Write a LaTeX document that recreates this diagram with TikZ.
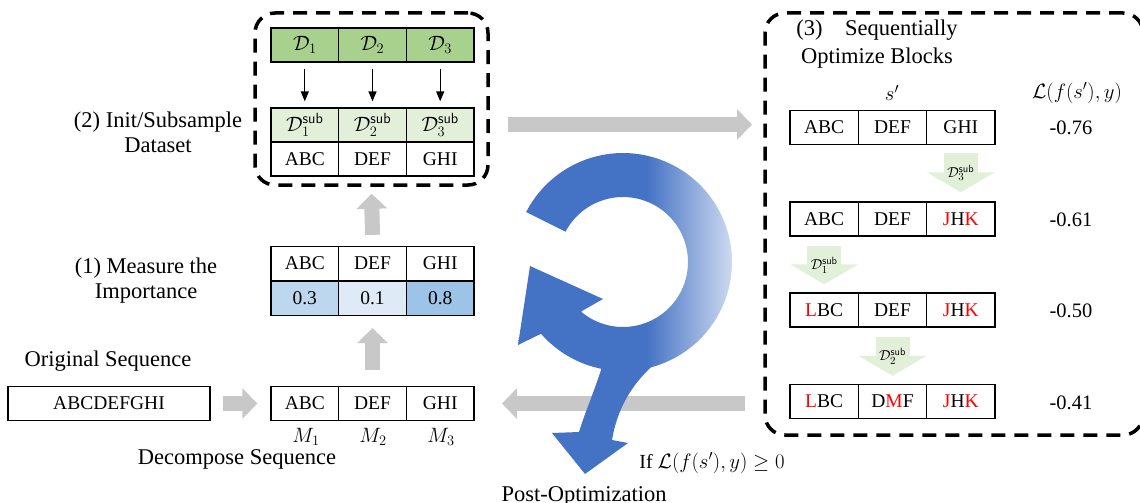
\documentclass[tikz,border=0pt]{standalone}
\usepackage{fontspec}
\setmainfont{Liberation Serif}
\usetikzlibrary{arrows.meta}
\definecolor{gdark}{HTML}{A9D18E}
\definecolor{glight}{HTML}{E2F0D9}
\definecolor{bthree}{HTML}{BDD7EE}
\definecolor{bone}{HTML}{DEEBF7}
\definecolor{beight}{HTML}{9DC3E6}
\definecolor{garrow}{RGB}{200,200,200}
\definecolor{cblue}{HTML}{4472C4}
\definecolor{cfade}{RGB}{205,217,240}
\pgfdeclarehorizontalshading{ringfade}{100bp}{color(0bp)=(cblue); color(25bp)=(cblue); color(55bp)=(cblue); color(75bp)=(cfade); color(100bp)=(cfade)}
\begin{document}
\begin{tikzpicture}[x=1pt,y=-1pt,
  cell/.style={draw, line width=1.3pt, minimum width=67.7pt, minimum height=34pt, inner sep=0pt, font=\fontsize{19.5}{21}\selectfont},
  mcell/.style={cell, font=\fontsize{21}{22}\selectfont},
  rcell/.style={cell, minimum width=68.3pt},
  lbl/.style={font=\fontsize{22.5}{25}\selectfont, align=center, inner sep=0pt},
  val/.style={font=\fontsize{20.5}{22}\selectfont, inner sep=0pt},
  dashbox/.style={draw, line width=3.5pt, dash pattern=on 14pt off 9pt, rounded corners=20pt, inner sep=0pt},
  blk/.style={-{Triangle[length=10pt,width=8pt]}, line width=1.3pt, shorten <=6pt, shorten >=6pt},
  grayarr/.style={color=garrow, line width=15pt, -{Triangle[length=15pt 0 1,width=30pt 0 1]}},
  greenarr/.style={color=glight, line width=34pt, -{Triangle[length=20pt 0 1,width=67pt 0 1]}},
  glbl/.style={text=black, font=\fontsize{15}{16}\selectfont, inner sep=0pt}
]
\useasboundingbox (0,0) rectangle (1140,503);

% dashed boxes
\node[dashbox, minimum width=233pt, minimum height=172pt] (lbox) at (371.5,99) {};
\node[dashbox, minimum width=378pt, minimum height=422pt] (rbox) at (954,224) {};

% top-left box contents
\node[mcell, fill=gdark] (d1) at (304.8,45) {$\mathcal{D}_1$};
\node[mcell, fill=gdark] (d2) at (372.5,45) {$\mathcal{D}_2$};
\node[mcell, fill=gdark] (d3) at (440.2,45) {$\mathcal{D}_3$};
\node[mcell, fill=glight] (s1) at (304.8,125) {$\mathcal{D}_1^{\mathsf{sub}}$};
\node[mcell, fill=glight] (s2) at (372.5,125) {$\mathcal{D}_2^{\mathsf{sub}}$};
\node[mcell, fill=glight] (s3) at (440.2,125) {$\mathcal{D}_3^{\mathsf{sub}}$};
\node[cell] (t1) at (304.8,159) {ABC};
\node[cell] (t2) at (372.5,159) {DEF};
\node[cell] (t3) at (440.2,159) {GHI};
\draw[blk] (d1) -- (s1);
\draw[blk] (d2) -- (s2);
\draw[blk] (d3) -- (s3);

% importance table
\node[cell] (i1) at (304.8,263.5) {ABC};
\node[cell] (i2) at (372.5,263.5) {DEF};
\node[cell] (i3) at (440.2,263.5) {GHI};
\node[cell, fill=bthree] (v1) at (304.8,298.5) {0.3};
\node[cell, fill=bone] (v2) at (372.5,298.5) {0.1};
\node[cell, fill=beight] (v3) at (440.2,298.5) {0.8};

% decomposed sequence
\node[cell] (m1) at (304.8,403.5) {ABC};
\node[cell] (m2) at (372.5,403.5) {DEF};
\node[cell] (m3) at (440.2,403.5) {GHI};
\node[val, font=\fontsize{21}{22}\selectfont] (ml1) at (306,437) {$M_1$};
\node[val, font=\fontsize{21}{22}\selectfont] (ml2) at (373,437) {$M_2$};
\node[val, font=\fontsize{21}{22}\selectfont] (ml3) at (441,437) {$M_3$};

% original sequence
\node[cell, minimum width=202pt] (orig) at (109,403.5) {ABCDEFGHI};

% labels left
\node[lbl] (lab2) at (158,132) {(2) Init/Subsample\\Dataset};
\node[lbl] (lab1) at (146,281) {(1) Measure the\\Importance};
\node[lbl] (labo) at (108,361) {Original Sequence};
\node[lbl] (labd) at (237,459) {Decompose Sequence};

% gray arrows left
\draw[grayarr] ([xshift=12pt]orig.east) -- ([xshift=-13pt]m1.west);
\draw[grayarr] ([yshift=16pt]m2.north) -- ([yshift=-12pt]v2.south);
\draw[grayarr] ([yshift=11pt]i2.north) -- ([yshift=-7pt]lbox.south);

% right box
\node[lbl, font=\fontsize{22.5}{28}\selectfont] (lab3) at (877,44) {(3)\quad Sequentially\\Optimize Blocks};
\node[val] (hs) at (892,93) {$s'$};
\node[val] (hl) at (1077,93) {$\mathcal{L}(f(s'),y)$};

\node[rcell] (r1a) at (824.2,127.5) {ABC};
\node[rcell] (r1b) at (892.5,127.5) {DEF};
\node[rcell] (r1c) at (960.8,127.5) {GHI};
\node[rcell] (r2a) at (824.2,219) {ABC};
\node[rcell] (r2b) at (892.5,219) {DEF};
\node[rcell] (r2c) at (960.8,219) {\textcolor{red}{J}H\textcolor{red}{K}};
\node[rcell] (r3a) at (824.2,310) {\textcolor{red}{L}BC};
\node[rcell] (r3b) at (892.5,310) {DEF};
\node[rcell] (r3c) at (960.8,310) {\textcolor{red}{J}H\textcolor{red}{K}};
\node[rcell] (r4a) at (824.2,401.5) {\textcolor{red}{L}BC};
\node[rcell] (r4b) at (892.5,401.5) {D\textcolor{red}{M}F};
\node[rcell] (r4c) at (960.8,401.5) {\textcolor{red}{J}H\textcolor{red}{K}};

\node[val] (l1) at (1071,128) {-0.76};
\node[val] (l2) at (1071,220) {-0.61};
\node[val] (l3) at (1071,311) {-0.50};
\node[val] (l4) at (1071,403) {-0.41};

\draw[greenarr] ([yshift=-8pt]r1c.south) -- ([yshift=9pt]r2c.north) node[glbl, midway] {$\mathcal{D}_3^{\mathsf{sub}}$};
\draw[greenarr] ([yshift=-9pt]r2a.south) -- ([yshift=8pt]r3a.north) node[glbl, midway] {$\mathcal{D}_1^{\mathsf{sub}}$};
\draw[greenarr] ([yshift=-9pt]r3b.south) -- ([yshift=8pt]r4b.north) node[glbl, midway] {$\mathcal{D}_2^{\mathsf{sub}}$};

% big gray arrows in the middle
\coordinate (ga) at (508,124.5);
\coordinate (gb) at (752,124.5);
\coordinate (gc) at (745,403.5);
\coordinate (gd) at (502,403.5);
\draw[grayarr] (ga) -- (gb);
\draw[grayarr] (gc) -- (gd);

% blue loop arrow
\fill[cblue] (604,360) .. controls (597,385) and (585,412) .. (579,432) -- (552,433) -- (585,474) -- (628,443) -- (612,440) .. controls (617,410) and (632,378) .. (670,352) -- cycle;
\shade[shading=ringfade] plot[domain=207.3:498.8, samples=90] ({623+109*cos(\x)},{262+109*sin(\x)}) -- (518,345) -- (530,266) -- (603,299) -- (582,311) -- plot[domain=490:207.8, samples=90] ({623+65*cos(\x)},{262+65*sin(\x)}) -- cycle;

\node[val, font=\fontsize{20}{21}\selectfont] (cond) at (712,463) {If $\mathcal{L}(f(s'),y) \geq 0$};
\node[lbl, anchor=base] (post) at (584,501) {Post-Optimization};
\end{tikzpicture}
\end{document}
